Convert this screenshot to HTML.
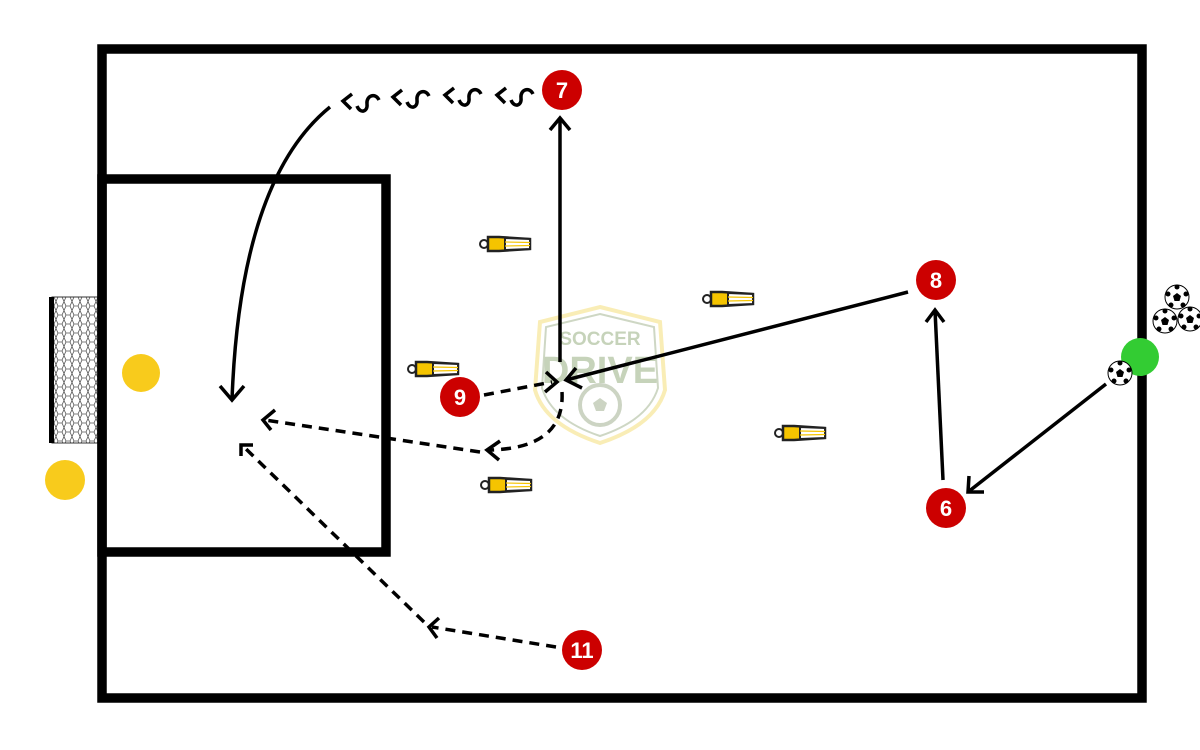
<!DOCTYPE html>
<html><head><meta charset="utf-8"><style>html,body{margin:0;padding:0;background:#fff}svg{display:block}</style></head>
<body>
<svg width="1200" height="750" viewBox="0 0 1200 750" xmlns="http://www.w3.org/2000/svg">
<defs>
<pattern id="net" width="8" height="9" patternUnits="userSpaceOnUse">
<path d="M2 0 L6 0 L8 4.5 L6 9 L2 9 L0 4.5 Z" fill="none" stroke="#555" stroke-width="0.8"/>
</pattern>
<g id="ball">
<circle r="12" fill="#fff" stroke="#000" stroke-width="1"/>
<polygon points="0,-4 4,-1 2.5,4 -2.5,4 -4,-1" fill="#000"/>
<circle cx="0" cy="-10" r="2.5" fill="#000"/><circle cx="9" cy="-3" r="2.5" fill="#000"/><circle cx="6" cy="8" r="2.5" fill="#000"/><circle cx="-6" cy="8" r="2.5" fill="#000"/><circle cx="-9" cy="-3" r="2.5" fill="#000"/>
</g>
<g id="cone">
<circle cx="-21" cy="0" r="4" fill="#fff" stroke="#222" stroke-width="2"/>
<path d="M-17 -7 L-6 -7 L25 -5 L25 5 L-6 7 L-17 7 Z" fill="#f5c400" stroke="#222" stroke-width="2.5"/>
<path d="M0 -6 L25 -5 L25 5 L0 6 Z" fill="#fff" stroke="#222" stroke-width="2"/>
<path d="M0 -2 L25 -1.5 M0 2 L25 1.5" stroke="#f5c400" stroke-width="1.2"/>
</g>
</defs>
<!-- goal -->
<rect x="52" y="297" width="46" height="146" fill="url(#net)" stroke="#333" stroke-width="1"/>
<rect x="49" y="297" width="5" height="146" fill="#000"/>
<!-- field -->
<rect x="102" y="49" width="1040" height="649" fill="none" stroke="#000" stroke-width="9.5"/>
<rect x="102" y="179" width="284" height="373" fill="none" stroke="#000" stroke-width="9.5"/>
<!-- logo -->
<g opacity="0.5">
<path d="M600 307 L660 322 L665 390 Q655 425 600 443 Q545 425 535 390 L540 322 Z" fill="none" stroke="#f5dc70" stroke-width="4"/>
<path d="M600 314 L654 327 L658 388 Q648 420 600 436 Q552 420 542 388 L546 327 Z" fill="none" stroke="#9fb08a" stroke-width="2"/>
<text x="600" y="345" font-family="Liberation Sans, sans-serif" font-weight="bold" font-size="19" fill="#8fa878" text-anchor="middle">SOCCER</text>
<text x="600" y="383" font-family="Liberation Sans, sans-serif" font-weight="bold" font-size="38" fill="#8fa878" text-anchor="middle">DRIVE</text>
<circle cx="600" cy="405" r="20" fill="none" stroke="#9aaa88" stroke-width="4"/>
<polygon points="600,398 607,403 604,411 596,411 593,403" fill="#9aaa88"/>
</g>
<!-- cones -->
<use href="#cone" x="505" y="244"/>
<use href="#cone" x="728" y="299"/>
<use href="#cone" x="433" y="369"/>
<use href="#cone" x="800" y="433"/>
<use href="#cone" x="506" y="485"/>
<!-- yellow dots -->
<circle cx="141" cy="373" r="19" fill="#f8cb1c"/>
<circle cx="65" cy="480" r="20" fill="#f8cb1c"/>
<!-- lines -->
<g fill="none" stroke="#000" stroke-width="3.5" stroke-linecap="butt">
<!-- squiggle -->
<path d="M357 106 c3 8 11 6 10 -2 c-1 -8 8 -12 12 -4"/>
<path d="M407 102 c3 8 11 6 10 -2 c-1 -8 8 -12 12 -4"/>
<path d="M459 100 c3 8 11 6 10 -2 c-1 -8 8 -12 12 -4"/>
<path d="M511 100 c3 8 11 6 10 -2 c-1 -8 8 -12 12 -4"/>
<path d="M352 94 l-9 7 l8 8"/>
<path d="M402 90 l-9 7 l8 8"/>
<path d="M454 88 l-9 7 l8 8"/>
<path d="M506 88 l-9 7 l8 8"/>
<path d="M330 107 Q240 180 232 400"/>
<path d="M220 386 L232 400 L244 386"/>
<!-- 7 -->
<path d="M560 362 L560 118"/>
<path d="M550 130 L560 118 L570 130"/>
<!-- 8 -->
<path d="M908 292 L566 380"/>
<path d="M576 368 L566 380 L582 388"/>
<!-- 6 to 8 -->
<path d="M943 480 L935 310"/>
<path d="M926 322 L935 310 L944 322"/>
<!-- ball to 6 -->
<path d="M1106 384 L968 492"/>
<path d="M969 476 L968 492 L984 492"/>
<!-- dashed -->
<g stroke-dasharray="10 7">
<path d="M484 395 L552 382"/>
<path d="M562 392 Q565 448 490 450"/>
<path d="M480 452 L265 420"/>
<path d="M556 647 L432 627"/>
<path d="M424 622 L245 448"/>
</g>
<path d="M546 372 L557 382 L545 392"/>
<path d="M500 441 L487 450 L499 460"/>
<path d="M275 410 L263 420 L271 430"/>
<path d="M439 618 L429 627 L437 638"/>
<path d="M241 456 L241 445 L253 445"/>
</g>
<!-- green + balls -->
<circle cx="1140" cy="357" r="19" fill="#33cc33"/>
<use href="#ball" x="1177" y="297"/>
<use href="#ball" x="1165" y="321"/>
<use href="#ball" x="1190" y="319"/>
<use href="#ball" x="1120" y="373"/>
<!-- players -->
<g font-family="Liberation Sans, sans-serif" font-weight="bold" font-size="22" fill="#fff" text-anchor="middle">
<circle cx="562" cy="90" r="20" fill="#cc0000"/><text x="562" y="98">7</text>
<circle cx="936" cy="280" r="20" fill="#cc0000"/><text x="936" y="288">8</text>
<circle cx="460" cy="397" r="20" fill="#cc0000"/><text x="460" y="405">9</text>
<circle cx="946" cy="508" r="20" fill="#cc0000"/><text x="946" y="516">6</text>
<circle cx="582" cy="650" r="20" fill="#cc0000"/><text x="582" y="658">11</text>
</g>
</svg>
</body></html>
